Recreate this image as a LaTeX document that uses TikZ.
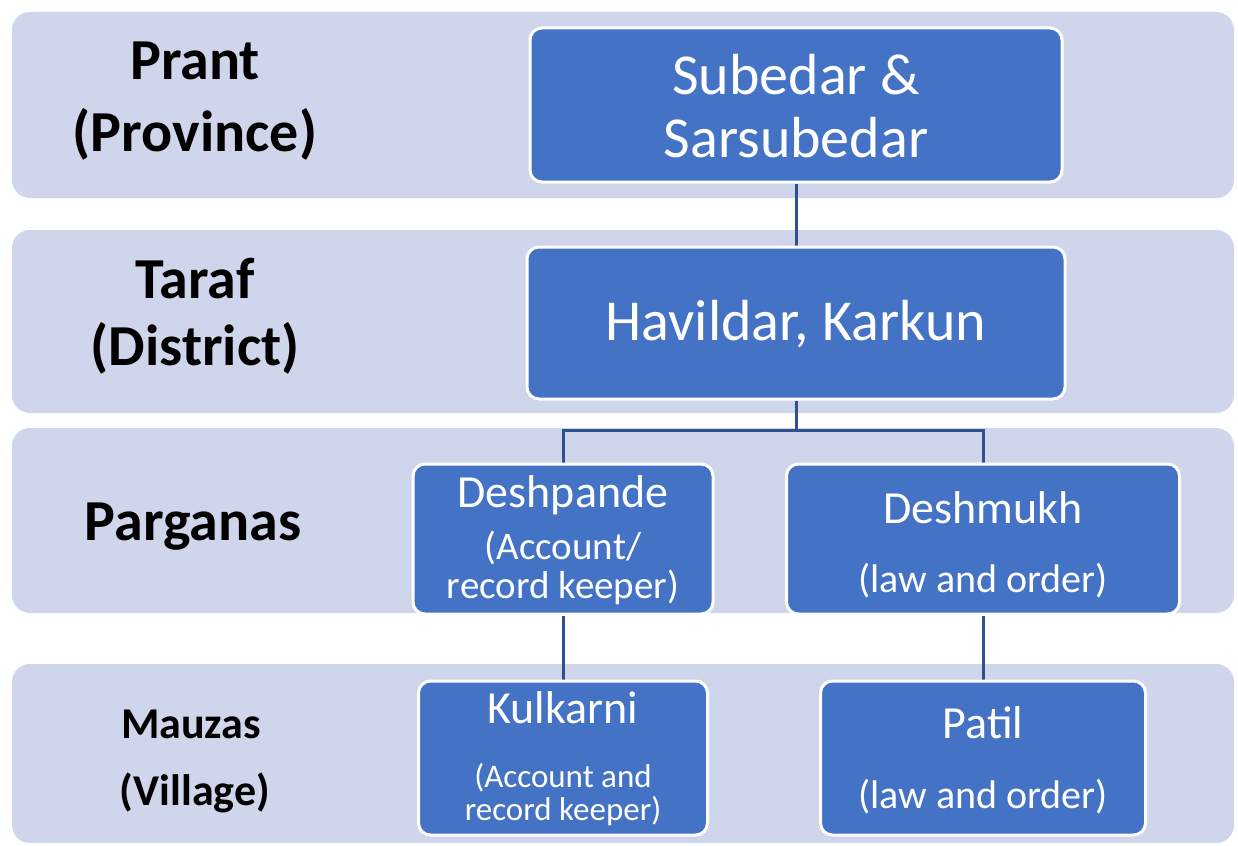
\documentclass[tikz,border=0pt]{standalone}
\usepackage{fontspec}
\setmainfont{Carlito}
\usetikzlibrary{backgrounds}
\definecolor{bandc}{HTML}{CFD5EA}
\definecolor{boxc}{HTML}{4472C4}
\definecolor{linec}{HTML}{2F528F}
\begin{document}
\begin{tikzpicture}[x=1pt,y=-1pt,
  band/.style={fill=bandc, rounded corners=18pt},
  box/.style={draw=white, line width=3pt, fill=boxc, rounded corners=12pt, inner sep=0pt},
  conn/.style={draw=linec, line width=3pt},
  lvl/.style={anchor=base, text=black, inner sep=0pt, font=\bfseries\fontsize{58}{60}\selectfont},
  lvls/.style={anchor=base, text=black, inner sep=0pt, font=\bfseries\fontsize{44}{46}\selectfont},
  big/.style={anchor=base, text=white, inner sep=0pt, font=\fontsize{58}{60}\selectfont},
  mid/.style={anchor=base, text=white, inner sep=0pt, font=\fontsize{46}{48}\selectfont},
  small/.style={anchor=base, text=white, inner sep=0pt, font=\fontsize{40}{42}\selectfont},
  smaller/.style={anchor=base, text=white, inner sep=0pt, font=\fontsize{39}{41}\selectfont},
  tiny/.style={anchor=base, text=white, inner sep=0pt, font=\fontsize{33}{35}\selectfont}]
\useasboundingbox (0,0) rectangle (1238,845);

\begin{scope}[on background layer]
  \fill[white] (0,0) rectangle (1238,845);
  \fill[band] (12,12) rectangle (1234,198);
  \fill[band] (12,230) rectangle (1234,413);
  \fill[band] (12,428) rectangle (1234,613);
  \fill[band] (12,664) rectangle (1234,843);
\end{scope}

% level labels
\node[lvl] (prant) at (195,80) {Prant};
\node[lvl] (prov) at (195,152) {(Province)};
\node[lvl] (taraf) at (195,298) {Taraf};
\node[lvl] (dist) at (195,365) {(District)};
\node[lvl] (parg) at (193,540) {Parganas};
\node[lvls] (mauz) at (191,738) {Mauzas};
\node[lvls] (vill) at (195,805) {(Village)};

% boxes
\node[box, minimum width=532pt, minimum height=154pt] (sub) at (796,105) {};
\node[box, minimum width=538pt, minimum height=152pt] (hav) at (796,323) {};
\node[box, minimum width=300pt, minimum height=150pt] (desp) at (563,539) {};
\node[box, minimum width=393pt, minimum height=150pt] (desm) at (983,539) {};
\node[box, minimum width=289pt, minimum height=154pt] (kul) at (563,758) {};
\node[box, minimum width=325pt, minimum height=154pt] (pat) at (983,758) {};

% box texts
\node[big] (t1) at (796,95) {Subedar \&};
\node[big] (t2) at (796,158) {Sarsubedar};
\node[big] (t3) at (796,340) {Havildar, Karkun};
\node[mid] (t4) at (563,507) {Deshpande};
\node[smaller] (t5) at (563,559) {(Account/};
\node[smaller] (t6) at (563,598) {record keeper)};
\node[mid] (t7) at (983,523) {Deshmukh};
\node[small] (t8) at (983,592) {(law and order)};
\node[mid] (t9) at (563,723) {Kulkarni};
\node[tiny] (t10) at (563,787) {(Account and};
\node[tiny] (t11) at (563,820) {record keeper)};
\node[mid] (t12) at (983,738) {Patil};
\node[small] (t13) at (983,808) {(law and order)};

\coordinate (j) at (796,430);
\begin{scope}[on background layer]
  \draw[conn] (sub.south) -- (hav.north);
  \draw[conn] (hav.south) -- (j);
  \draw[conn] (j) -| (desp.north);
  \draw[conn] (j) -| (desm.north);
  \draw[conn] (desp.south) -- (kul.north);
  \draw[conn] (desm.south) -- (pat.north);
\end{scope}
\end{tikzpicture}
\end{document}
